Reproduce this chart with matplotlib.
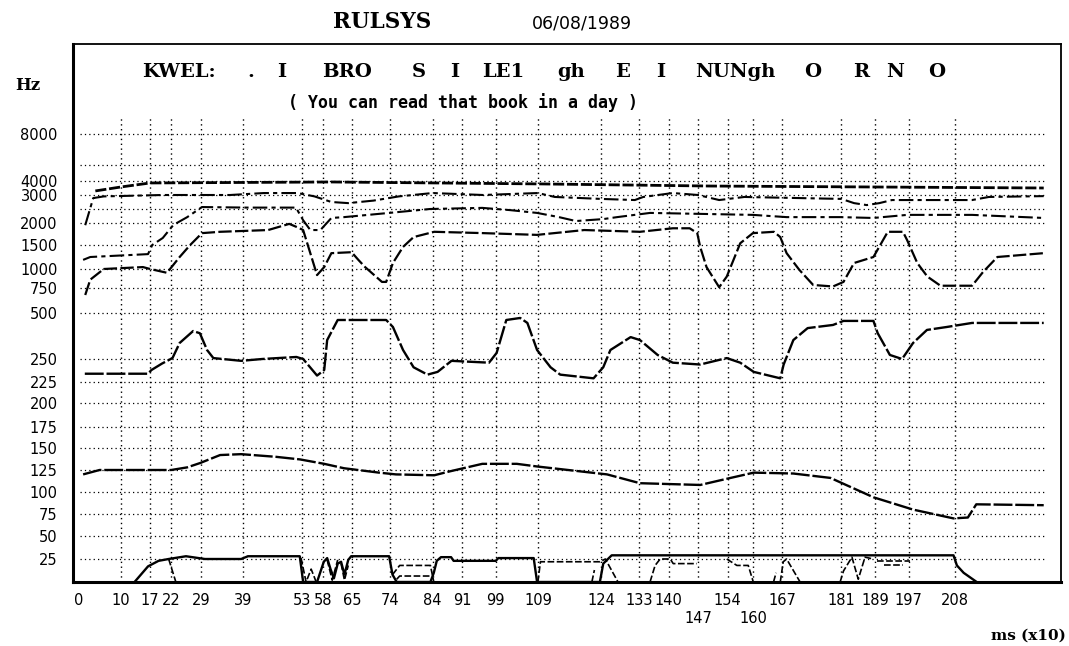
import numpy as np
import matplotlib.pyplot as plt

W, H = 1069, 646

# Thang truc y cua ban in: Hz -> do cao (doc tu cac duong luoi)
y_scale_hz = [0, 25, 50, 75, 100, 125, 150, 175, 200, 225, 250, 500, 750, 1000,
              1500, 2000, 2500, 3000, 4000, 5000, 8000, 15600]
y_scale_pos = [0, 23, 46, 68, 90, 112, 134, 155, 179, 200, 223, 269, 294, 313,
               337, 359, 373, 387, 401, 417, 448, 538]

y_ticks = [25, 50, 75, 100, 125, 150, 175, 200, 225, 250, 500, 750, 1000,
           1500, 2000, 3000, 4000, 8000]
y_grid_extra = [2500, 5000]
x_ticks = [0, 10, 17, 22, 29, 39, 53, 58, 65, 74, 84, 91, 99, 109, 124, 133,
           140, 147, 154, 160, 167, 181, 189, 197, 208]
x_low = [147, 160]

# Cac duong formant (thoi gian x10 ms, Hz)
f4_t = [4, 10, 17, 60, 110, 150, 190, 229]
f4_hz = [3290, 3570, 3860, 3930, 3790, 3640, 3570, 3500]

f3_t = [1.6, 3.5, 6, 20, 36, 44, 52, 56, 60, 64, 70, 76, 84, 96, 109, 113, 124,
        132, 134, 141, 147, 152, 158, 181, 184, 187, 190, 193, 212, 216, 229]
f3_hz = [1950, 2890, 2950, 3000, 3000, 3140, 3140, 2950, 2750, 2710, 2800, 2950,
         3140, 3000, 3140, 2930, 2860, 2820, 2930, 3140, 3000, 2820, 2930, 2860,
         2710, 2640, 2710, 2820, 2820, 2930, 2960]

f2b_t = [1.1, 2.8, 16.5, 17.5, 20, 22.5, 25.8, 29.3, 40, 51.6, 53.3, 55, 57.4,
         60, 63, 73.7, 83.4, 95.8, 102.4, 108.8, 114, 118, 124.5, 127.8, 135.6,
         160, 168, 180.7, 188.6, 196.6, 212, 229]
f2b_hz = [1190, 1250, 1310, 1500, 1660, 1955, 2210, 2570, 2550, 2550, 2100, 1840,
          1840, 2180, 2210, 2360, 2500, 2540, 2460, 2360, 2210, 2070, 2140, 2210,
          2360, 2290, 2210, 2210, 2180, 2290, 2290, 2180]

f2_t = [1.6, 2.8, 6, 15.3, 17, 21, 24, 26.5, 29.3, 33.6, 45, 50, 52, 53.3, 55,
        56.6, 58.3, 60, 64.8, 66.4, 68, 72, 73, 74.6, 77, 79.5, 84.4, 96, 108.8,
        120, 133.2, 141, 145, 146.8, 147.5, 149, 152, 153.8, 157, 160, 165, 166.5,
        168, 171, 174.3, 179, 181.5, 184, 188.6, 192, 195.6, 196.6, 199, 201.4,
        204.5, 212, 214.6, 218, 229]
f2_hz = [680, 860, 1000, 1040, 1000, 950, 1250, 1500, 1770, 1800, 1840, 1980,
         1900, 1840, 1330, 920, 1040, 1330, 1350, 1190, 1040, 830, 830, 1125,
         1460, 1680, 1800, 1770, 1730, 1840, 1800, 1880, 1880, 1770, 1460, 1040,
         760, 900, 1540, 1770, 1800, 1680, 1330, 990, 790, 770, 830, 1125, 1250,
         1800, 1800, 1610, 1125, 900, 780, 780, 960, 1250, 1330]

f1_t = [1.5, 16.5, 17.3, 19.8, 22.3, 24, 27.2, 28.8, 30.5, 32, 38.6, 43.6, 51.7,
        53.3, 56.6, 58.3, 59, 61.5, 73, 74.6, 77, 79.5, 82.8, 85.2, 88.5, 97.4,
        99.2, 101.5, 104.8, 106.5, 108.8, 112, 114.3, 122.2, 124.5, 126.2, 131,
        133.2, 137.4, 141, 147.5, 153.8, 157, 160.2, 166.5, 167.3, 169.6, 173,
        179, 181.5, 188.6, 189.6, 192.5, 195.4, 198, 201.3, 206, 212, 229]
f1_hz = [234, 234, 238, 245, 255, 337, 402, 390, 299, 255, 248, 250, 261, 250,
         232, 238, 353, 462, 462, 424, 299, 241, 233, 236, 248, 246, 283, 462,
         473, 446, 299, 241, 233, 229, 241, 299, 369, 353, 272, 246, 244, 255,
         246, 236, 229, 244, 353, 418, 435, 457, 457, 391, 272, 250, 337, 408,
         424, 446, 446]

f0_t = [1.1, 5, 22, 25.8, 28.9, 33.6, 38.6, 46.8, 52.6, 58.3, 63, 71.3, 75.3,
        84.4, 87.7, 95.8, 104, 108.8, 125.4, 133.2, 147.5, 153.8, 160.2, 169.6,
        178.4, 188.6, 198, 207.6, 211, 213, 229]
f0_hz = [120, 125, 125, 128, 133, 142, 143, 140, 137, 132, 127, 122, 120, 119,
         123, 132, 132, 129, 120, 110, 108, 115, 122, 121, 116, 94, 80, 70, 71,
         86, 85]

# Vet thanh (phan duoi cung)
v_t = [13.3, 16.5, 19, 21.4, 25.5, 30, 38.6, 40.2, 52.5, 53.3, 56.6, 58.2, 59,
       59.8, 60.6, 61.5, 62.3, 63.1, 64, 64.7, 73.7, 74.5, 75.5, 83.5, 84.3, 85,
       86, 88.4, 89, 99, 99.6, 108, 108.8, 123.7, 124.5, 126.5, 207.6, 208.4,
       210, 213.1]
v_hz = [0, 17, 23, 25, 28, 25, 25, 28, 28, 0, 0, 22, 26, 14, 4, 20, 22, 8, 24,
        28, 28, 8, 0, 0, 10, 23, 27, 27, 23, 23, 26, 26, 0, 0, 20, 29, 29, 18,
        10, 0]

v_extra_t = [[21.4, 23.1], [52.8, 54, 55.2, 56.4], [59, 60.2, 61.5],
             [62.3, 63.1, 64], [74.5, 76.2, 83.5, 84.3], [75.5, 76.2, 83.5],
             [109, 109.6, 123.7, 125, 128], [121.8, 122.4],
             [135.6, 136.8, 138, 140.4, 141.1, 146.7],
             [153.8, 156.2, 158.9, 160.1], [164.9, 165.5],
             [166.5, 167.2, 168, 171.2],
             [180.7, 181.5, 183.5, 185, 186.6, 188.6], [191, 195.7], [189.5, 197.3]]
v_extra_hz = [[25, 0], [26, 0, 14, 0], [24, 2, 24], [20, 2, 18], [8, 18, 18, 0],
              [3, 6.5, 6.5], [0, 22, 22, 25, 0], [0, 13], [0, 18, 25, 25, 20, 20],
              [25, 18, 18, 0], [0, 10], [0, 22, 25, 0], [0, 12, 27, 3, 27, 25],
              [18, 18], [23, 23]]


def fwd(v):
    return np.interp(v, y_scale_hz, y_scale_pos)


def inv(p):
    return np.interp(p, y_scale_pos, y_scale_hz)


def px(x, y):
    return x / W, 1 - y / H


fig = plt.figure(figsize=(W / 100, H / 100), dpi=100)
ax = fig.add_axes([73 / W, 1 - 582 / H, (1061 - 73) / W, (582 - 44) / H])
ax.set_yscale('function', functions=(fwd, inv))
ax.set_xlim(-1.3, 233.1)
ax.set_ylim(0, 15600)

# Luoi cham
dots = (0, (1, 2.5))
for v in y_ticks + y_grid_extra:
    ax.hlines(v, 0.3, 229, colors='k', lw=0.9, linestyles=[dots], zorder=1)
for v in x_ticks[1:]:
    ax.vlines(v, 0, 9350, colors='k', lw=1.0, linestyles=[dots], zorder=1)

# Cac duong
ax.plot(f4_t, f4_hz, color='k', lw=2.0, ls=(0, (4, 1)))
ax.plot(f3_t, f3_hz, color='k', lw=1.5, ls=(0, (7, 2, 2, 2)))
ax.plot(f2b_t, f2b_hz, color='k', lw=1.5, ls=(0, (7, 2, 2, 2)))
ax.plot(f2_t, f2_hz, color='k', lw=1.6, ls=(0, (6, 1.5)))
ax.plot(f1_t, f1_hz, color='k', lw=1.7, ls=(0, (8, 1.2)))
ax.plot(f0_t, f0_hz, color='k', lw=1.7, ls=(0, (8, 1.2)))
ax.plot(v_t, v_hz, color='k', lw=1.7)
for tt, hh in zip(v_extra_t, v_extra_hz):
    ax.plot(tt, hh, color='k', lw=1.2, ls=(0, (4, 1.5)))

ax.set_yticks(y_ticks, [str(v) for v in y_ticks])
ax.set_xticks(x_ticks, [("\n" if v in x_low else "") + str(v) for v in x_ticks])
ax.minorticks_off()
ax.tick_params(axis='y', length=0, pad=11, labelsize=10.5)
ax.tick_params(axis='x', length=0, pad=8, labelsize=10.5)
for s in ['left', 'bottom']:
    ax.spines[s].set_linewidth(2.2)
for s in ['top', 'right']:
    ax.spines[s].set_linewidth(1.3)

# Chu tren dau
fig.text(*px(382, 28), "RULSYS", fontsize=15.5, family='DejaVu Serif',
         weight='bold', ha='center', va='baseline')
fig.text(*px(582, 28), "06/08/1989", fontsize=12.5, ha='center', va='baseline')
fig.text(*px(28, 90), "Hz", fontsize=12, family='DejaVu Serif', weight='bold',
         ha='center', va='baseline')

tokens = ["KWEL:", ".", "I", "BRO", "S", "I", "LE1", "gh", "E", "I", "NUNgh",
          "O", "R", "N", "O"]
token_x = [179, 251, 282, 347, 419, 455, 503, 571, 623, 661, 735, 813, 861, 895, 937]
for s, x in zip(tokens, token_x):
    fig.text(*px(x, 77), s, fontsize=14, family='DejaVu Serif', weight='bold',
             ha='center', va='baseline')

fig.text(*px(463, 108), "( You can read that book in a day )", fontsize=12,
         family='DejaVu Sans Mono', weight='bold', ha='center', va='baseline')
fig.text(*px(1066, 640), "ms (x10)", fontsize=11, family='DejaVu Serif',
         weight='bold', ha='right', va='baseline')

fig.savefig('out.png', dpi=100)
